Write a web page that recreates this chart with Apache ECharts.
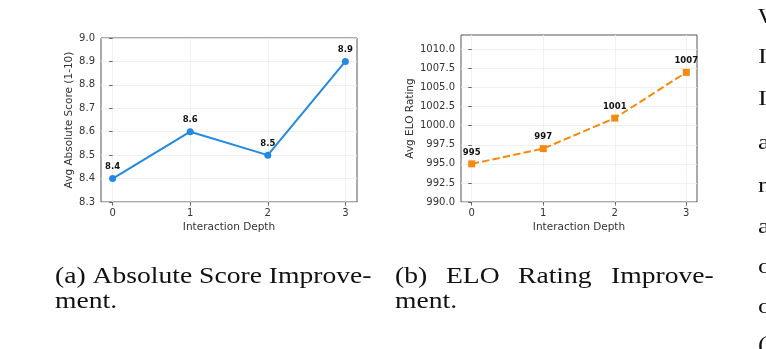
<!DOCTYPE html>
<html>
<head>
<meta charset="utf-8">
<script src="https://cdn.jsdelivr.net/npm/echarts@6/dist/echarts.min.js"></script>
<style>
html,body{margin:0;padding:0;background:#fff;}
#c{width:766px;height:349px;}
</style>
</head>
<body>
<div id="c"></div>
<script>
// ---- data ----
const depths = [0, 1, 2, 3];
const absScores = [8.4, 8.6, 8.5, 8.9];
const eloRatings = [995, 997, 1001, 1007];
const xTickValues = [0, 1, 2, 3];
const absYTicks = [8.3, 8.4, 8.5, 8.6, 8.7, 8.8, 8.9, 9.0];
const eloYTicks = [990, 992.5, 995, 997.5, 1000, 1002.5, 1005, 1007.5, 1010];
const xAxisTitle = 'Interaction Depth';
const absYTitle = 'Avg Absolute Score (1-10)';
const eloYTitle = 'Avg ELO Rating';
const captionA = ['(a) Absolute Score Improve-', 'ment.'];
const captionBWords = ['(b)', 'ELO', 'Rating', 'Improve-'];
const captionB2 = 'ment.';
const sideLetters = ['W', 'I', 'I', 'a', 'n', 'a', 'o', 'o', '('];

const FONT = 'DejaVu Sans';
const SERIF = 'Liberation Serif';
const BLUE = '#2389e3';
const ORANGE = '#f58a0e';

function xAxisCfg(gi) {
  return {
    type: 'value', gridIndex: gi, min: -0.15, max: 3.15,
    name: xAxisTitle, nameLocation: 'middle', nameGap: 20,
    nameTextStyle: {fontFamily: FONT, fontSize: 10.5, color: '#333'},
    axisLine: {show: false},
    axisTick: {show: true, length: 3.5, customValues: xTickValues, lineStyle: {color: '#444', width: 0.8}},
    axisLabel: {customValues: xTickValues, fontFamily: FONT, fontSize: 10, color: '#333', margin: 6},
    splitLine: {show: true, lineStyle: {color: '#ececec', width: 0.8}}
  };
}
function yAxisCfg(gi, ticks, min, max, name, gap) {
  return {
    type: 'value', gridIndex: gi, min: min, max: max,
    name: name, nameLocation: 'middle', nameGap: gap,
    nameTextStyle: {fontFamily: FONT, fontSize: 10.5, color: '#333'},
    axisLine: {show: false},
    axisTick: {show: true, length: 3.5, customValues: ticks, lineStyle: {color: '#444', width: 0.8}},
    axisLabel: {customValues: ticks, fontFamily: FONT, fontSize: 10, color: '#333', margin: 6,
      formatter: v => Number(v).toFixed(1)},
    splitLine: {show: true, lineStyle: {color: '#ececec', width: 0.8}}
  };
}

const CAP_FONT = '23px "' + SERIF + '"';
const SX = 1.2;
function capText(x, y, t) {
  return {type: 'text', x: x, y: y, scaleX: SX, style: {text: t, font: CAP_FONT, fill: '#111', verticalAlign: 'top', align: 'left'}};
}
const graphics = [];
graphics.push(capText(55, 265, captionA[0]));
graphics.push(capText(55, 290, captionA[1]));
const bx = [395, 446, 518, 611];
captionBWords.forEach((w, i) => graphics.push(capText(bx[i], 265, w)));
graphics.push(capText(395, 290, captionB2));
const sideY = [17, 57, 99, 143, 186, 227, 267, 307, 345];
sideLetters.forEach((ch, i) => {
  graphics.push({type: 'text', x: 758, y: sideY[i], scaleX: SX, style: {text: ch, font: '22px "' + SERIF + '"', fill: '#111', verticalAlign: 'middle'}});
});

const chart = echarts.init(document.getElementById('c'), null, {renderer: 'canvas'});
chart.setOption({
  animation: false,
  backgroundColor: '#fff',
  grid: [
    {left: 101, top: 38, width: 256, height: 164, show: true, borderColor: '#444', borderWidth: 0.9, backgroundColor: 'transparent'},
    {left: 461, top: 35, width: 236, height: 167, show: true, borderColor: '#444', borderWidth: 0.9, backgroundColor: 'transparent'}
  ],
  xAxis: [xAxisCfg(0), xAxisCfg(1)],
  yAxis: [
    yAxisCfg(0, absYTicks, 8.3, 9.0, absYTitle, 26),
    yAxisCfg(1, eloYTicks, 990, 1011.9, eloYTitle, 44)
  ],
  graphic: graphics,
  series: [
    {
      type: 'line', xAxisIndex: 0, yAxisIndex: 0,
      data: depths.map((d, i) => [d, absScores[i]]),
      symbol: 'circle', symbolSize: 7,
      lineStyle: {color: BLUE, width: 2},
      itemStyle: {color: BLUE},
      label: {show: true, position: 'top', distance: 3.5, fontFamily: FONT, fontSize: 8.5, fontWeight: 'bold', color: '#111',
        formatter: p => p.value[1].toFixed(1)}
    },
    {
      type: 'line', xAxisIndex: 1, yAxisIndex: 1,
      data: depths.map((d, i) => [d, eloRatings[i]]),
      symbol: 'rect', symbolSize: 7,
      lineStyle: {color: ORANGE, width: 2, type: [7.4, 3.2]},
      itemStyle: {color: ORANGE},
      label: {show: true, position: 'top', distance: 3.5, fontFamily: FONT, fontSize: 8.5, fontWeight: 'bold', color: '#111',
        formatter: p => String(p.value[1])}
    }
  ]
});
</script>
</body>
</html>
